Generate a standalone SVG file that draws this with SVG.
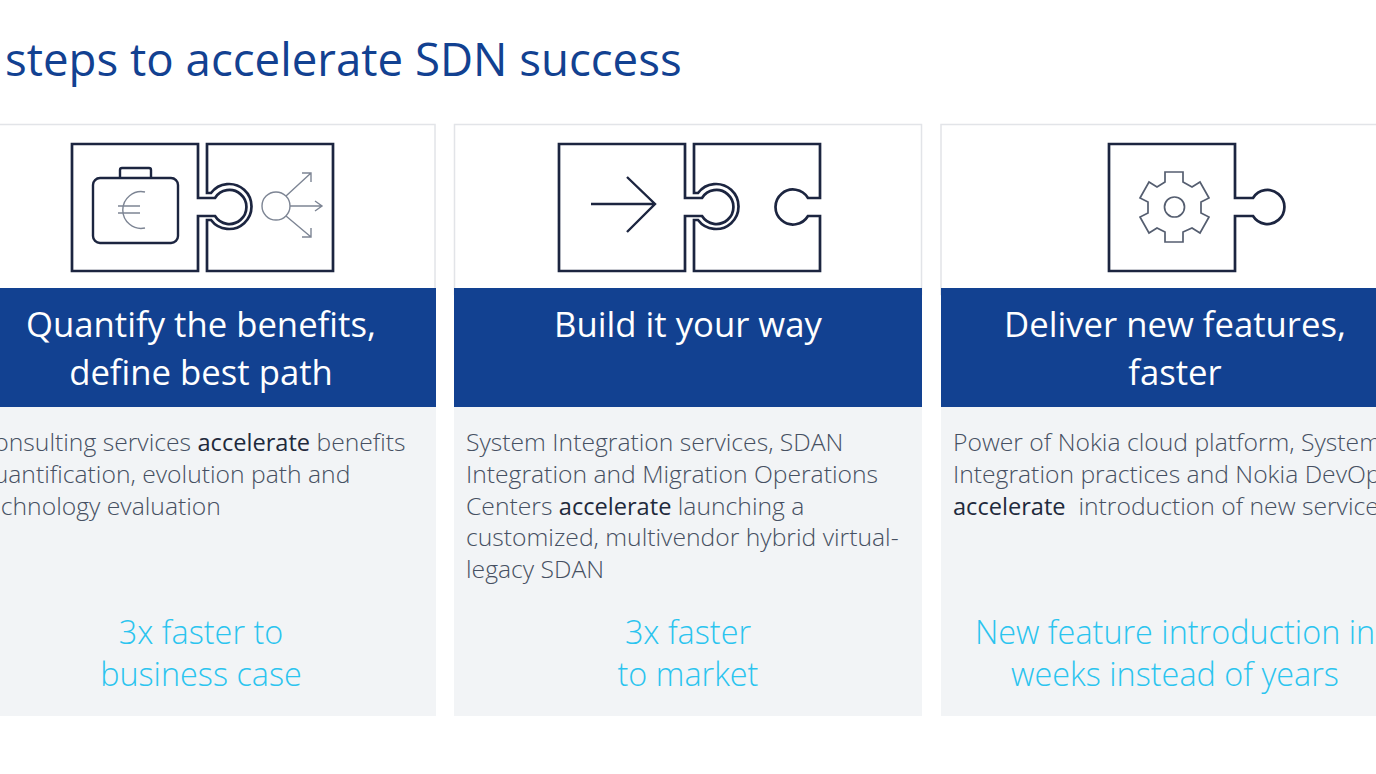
<svg xmlns="http://www.w3.org/2000/svg" width="1376" height="774" viewBox="0 0 1376 774">
<style>
text{font-family:"Open Sans","Noto Sans","Liberation Sans",sans-serif}
.title{font-size:45.6px;fill:#124191}
.head{font-size:34.7px;fill:#fff;text-anchor:middle}
.body{font-size:24.7px;fill:#465062;font-weight:300}
.body tspan{fill:#1f2a3c;font-weight:400;font-size:23.6px}
.kpi{font-size:32.4px;fill:#2bc4ef;text-anchor:middle;font-weight:300}
.card{fill:#fff;stroke:#e2e4e8;stroke-width:1.5}
.panel{fill:#f2f4f6}
.band{fill:#124191}
.ln{fill:none;stroke:#1c2540;stroke-width:2.7}
.th{fill:none;stroke:#1c2540;stroke-width:2.4}
.gr{fill:none;stroke:#7d8594;stroke-width:1.4}
.gear{fill:none;stroke:#555e70;stroke-width:1.7}
</style>
<defs>
<path id="left" d="M198,144V198H215A17,17 0 1 1 215,216H198V271H72V144Z"/>
<path id="ring" d="M207,144H333V271H207V220H211A22.500,22.500 0 1 0 211,193H207Z"/>
</defs>
<g id="title"><text class="title" x="5" y="76">steps to accelerate SDN success</text></g>
<g id="card-1">
<rect class="card" x="-10" y="124.500" width="445" height="170"/>
<rect class="panel" x="-10" y="407" width="446" height="309"/>
<rect class="band" x="-10" y="288" width="446" height="119"/>
<use href="#left" class="ln"/><use href="#ring" class="ln"/>
<rect class="th" x="93" y="178" width="85" height="65" rx="7"/>
<path class="th" d="M120,178V170Q120,168 122,168H149Q151,168 151,170V178"/>
<path class="gr" d="M145,192A18.400,18.400 0 1 0 145,228M118,206H140M118,213H140"/>
<circle class="gr" cx="276" cy="206" r="14"/>
<path class="gr" d="M286,196L311,173M302,173H311V182M290,206H322M315,201L322,206L315,211M286,216L311,237M302,237H311V228"/>
<text class="head" x="201" y="337">Quantify the benefits,</text>
<text class="head" x="201" y="385">define best path</text>
<text class="body" x="-21" y="451">Consulting services <tspan>accelerate</tspan> benefits</text>
<text class="body" x="-21" y="483">quantification, evolution path and</text>
<text class="body" x="-21" y="515">technology evaluation</text>
<text class="kpi" x="201" y="644">3x faster to</text>
<text class="kpi" x="201" y="686">business case</text>
</g>
<g id="card-2">
<rect class="card" x="454.500" y="124.500" width="467" height="170"/>
<rect class="panel" x="454" y="407" width="468" height="309"/>
<rect class="band" x="454" y="288" width="468" height="119"/>
<g transform="translate(487,0)"><use href="#left" class="ln"/></g>
<path class="ln" d="M694,144H820V198H808A17.500,17.500 0 1 0 808,216H820V271H694V220H698A22.500,22.500 0 1 0 698,193H694Z"/>
<path class="th" d="M591,204H655M627,177L655,204L627,232"/>
<text class="head" x="688" y="337">Build it your way</text>
<text class="body" x="466" y="451">System Integration services, SDAN</text>
<text class="body" x="466" y="483">Integration and Migration Operations</text>
<text class="body" x="466" y="515">Centers <tspan>accelerate</tspan> launching a</text>
<text class="body" x="466" y="546">customized, multivendor hybrid virtual-</text>
<text class="body" x="466" y="578">legacy SDAN</text>
<text class="kpi" x="688" y="644">3x faster</text>
<text class="kpi" x="688" y="686">to market</text>
</g>
<g id="card-3">
<rect class="card" x="941" y="124.500" width="445" height="170"/>
<rect class="panel" x="941" y="407" width="445" height="309"/>
<rect class="band" x="941" y="288" width="445" height="119"/>
<path class="ln" d="M1235,144V198H1253A17,17 0 1 1 1253,216H1235V271H1109V144Z"/>
<path class="gear" d="M1165,172H1183V182L1192,187L1200,182L1209,198L1201,202V213L1209,217L1200,233L1192,228L1183,232V242H1165V232L1157,228L1149,233L1140,217L1148,213V202L1140,198L1149,182L1157,187L1165,182Z"/>
<circle class="gear" cx="1174.500" cy="207" r="10"/>
<text class="head" x="1175" y="337">Deliver new features,</text>
<text class="head" x="1175" y="385">faster</text>
<text class="body" x="953" y="451">Power of Nokia cloud platform, System</text>
<text class="body" x="953" y="483">Integration practices and Nokia DevOps</text>
<text class="body" x="953" y="515"><tspan>accelerate</tspan>&#160; introduction of new services</text>
<text class="kpi" x="1175" y="644">New feature introduction in</text>
<text class="kpi" x="1175" y="686">weeks instead of years</text>
</g>
</svg>
